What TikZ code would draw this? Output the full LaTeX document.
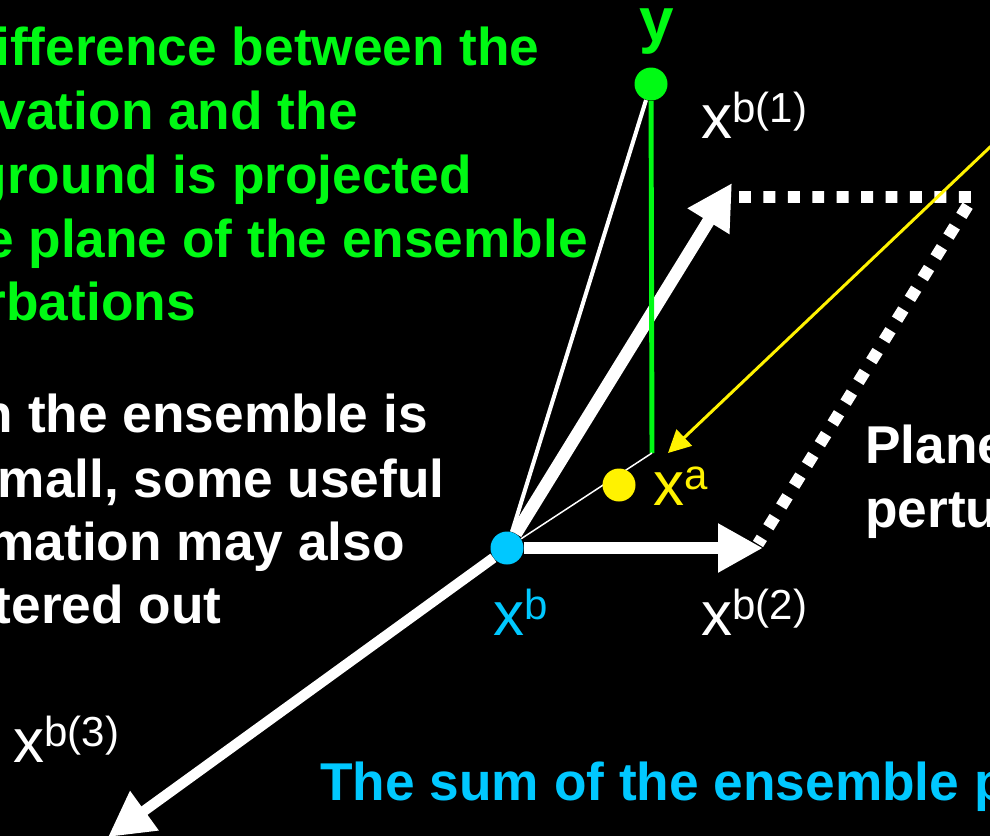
\documentclass[tikz,border=0pt]{standalone}
\usepackage{fontspec}
\setmainfont{Liberation Sans}
\usetikzlibrary{arrows.meta}
\definecolor{obsgreen}{RGB}{0, 250, 20}
\definecolor{bgcyan}{RGB}{0, 200, 255}
\definecolor{anayellow}{RGB}{255, 242, 0}
\newcommand{\vsup}[1]{\raisebox{9.1pt}{\fontsize{23.9pt}{26pt}\selectfont #1}}

\begin{document}
\begin{tikzpicture}[x=0.02cm, y=-0.02cm, >=Stealth,
  para/.style={font=\fontsize{30.3pt}{36pt}\selectfont\bfseries, inner sep=0pt, anchor=base east},
  lab/.style={font=\fontsize{35.3pt}{40pt}\selectfont, inner sep=0pt, anchor=base west},
  dot/.style={circle, fill=#1, minimum size=0.66cm, inner sep=0pt},
  vec/.style={white, line width=7.2pt, -{Triangle[length=25.6pt, width=26.2pt]}}]
  \useasboundingbox (0,0) rectangle (990,836);
  \clip (0,0) rectangle (990,836);
  \fill[black] (0,0) rectangle (990,836);

  % text blocks, cut off at the left edge
  \foreach \txt/\xe/\yb in {ifference between the/540/65, vation and the/358/129,
      ground is projected/472/193, e plane of the ensemble/588/257, rbations/196/320}
    \node[para, obsgreen] at (\xe,\yb) {\txt};
  \foreach \txt/\xe/\yb in {n the ensemble is/428/432, {mall, some useful}/445/497,
      mation may also/405/560, tered out/222/623}
    \node[para, white] at (\xe,\yb) {\txt};
  \node[para, white, anchor=base west] (plane) at (865,463) {Plane};
  \node[para, white, anchor=base west] (pert) at (865,527) {pertu};
  \node[para, bgcyan, anchor=base west] (sum) at (320,800) {The sum of the ensemble p};

  % points and vector ends
  \coordinate (foot) at (652,453);
  \coordinate (b1) at (732,183);
  \coordinate (b2) at (763,548);
  \coordinate (b3) at (108,837);
  \coordinate (d1) at (739,197);
  \coordinate (d2) at (973,197);
  \coordinate (d3) at (758,544);
  \coordinate (yfar) at (1068,73);
  \coordinate (xatip) at (668,453);
  \node[dot=obsgreen] (y) at (651,84) {};
  \node[dot=bgcyan] (xb) at (507,548) {};

  \draw[white, line width=2.3pt] (xb) -- (y);
  \draw[vec] (xb) -- (b1);
  \draw[vec, line width=6.8pt] (xb) -- (b2);
  \draw[vec, line width=5.9pt] (xb) -- (b3);
  \draw[obsgreen, line width=2.8pt] (y) -- (foot);
  \draw[white, line width=0.85pt] (xb) -- (foot);
  \node[dot=anayellow] (xa) at (619,485) {};
  \draw[white, line width=6.8pt, dash pattern=on 6.8pt off 7.1pt] (d1) -- (d2) -- (d3);
  \draw[anayellow, line width=1.7pt, -{Triangle[length=12.8pt, width=12.6pt]}] (yfar) -- (xatip);

  % labels
  \node[lab, obsgreen, font=\fontsize{35.3pt}{40pt}\selectfont\bfseries] (ylab) at (639,41) {y};
  \node[lab, white] (lb1) at (701,138) {x\vsup{b(1)}};
  \node[lab, white] (lb2) at (701,635) {x\vsup{b(2)}};
  \node[lab, white] (lb3) at (13,762) {x\vsup{b(3)}};
  \node[lab, bgcyan] (lxb) at (493,635) {x\vsup{b}};
  \node[lab, anayellow] (lxa) at (653,505) {x\vsup{a}};
\end{tikzpicture}
\end{document}
